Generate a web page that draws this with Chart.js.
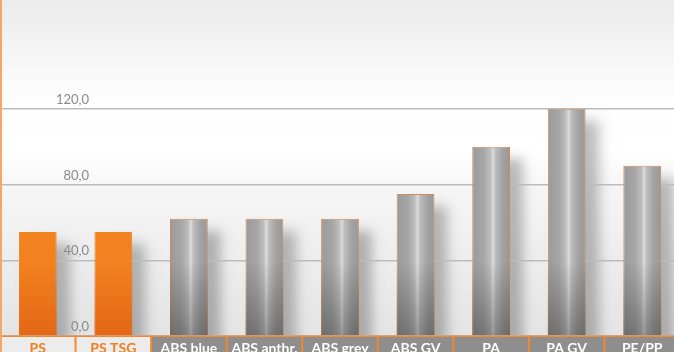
<!DOCTYPE html>
<html lang="de">
<head>
    <meta charset="UTF-8">
    <title>Materialvergleich</title>
    <script src="https://cdn.jsdelivr.net/npm/chart.js"></script>
    <style>
        html, body {
            margin: 0;
            padding: 0;
            overflow: hidden;
            background: #fff;
        }

        /* etwas breiter als das Fenster, die letzte Spalte ist angeschnitten */
        .chart-box {
            position: relative;
            width: 680px;
            height: 352px;
        }
    </style>
</head>
<body>
    <div class="chart-box">
        <canvas id="chart"></canvas>
    </div>

    <script>
        // Werte
        var categories = ['PS', 'PS TSG', 'ABS blue', 'ABS anthr.', 'ABS grey', 'ABS GV', 'PA', 'PA GV', 'PE/PP'];
        var values = [55, 55, 62, 62, 62, 75, 100, 120, 90];
        var highlighted = [true, true, false, false, false, false, false, false, false];
        var yTicks = [0, 40, 80, 120];
        var yMax = 177.5;

        var barPct = 0.5;

        // Zylinder-Verlauf für die Säulen
        function barColumn(ctx) {
            var chart = ctx.chart;
            var i = ctx.dataIndex;
            if (highlighted[i]) return '#f28220';
            if (!chart.chartArea) return '#a2a2a2';
            var xs = chart.scales.x;
            var w = xs.width / categories.length * barPct;
            var cx = xs.getPixelForValue(i);
            var g = chart.ctx.createLinearGradient(cx - w / 2, 0, cx + w / 2, 0);
            g.addColorStop(0, '#9a9a9a');
            g.addColorStop(0.3, '#a6a6a6');
            g.addColorStop(0.48, '#bdbdbd');
            g.addColorStop(0.55, '#dcdcdc');
            g.addColorStop(0.62, '#bdbdbd');
            g.addColorStop(0.8, '#a3a3a3');
            g.addColorStop(1, '#979797');
            return g;
        }

        function barEdge(ctx) {
            return highlighted[ctx.dataIndex] ? '#f28220' : '#d08c58';
        }

        // Abdunkelung am Fuß der Säulen
        function barShade(ctx) {
            var chart = ctx.chart;
            var area = chart.chartArea;
            if (!area) return 'rgba(0,0,0,0)';
            var g = chart.ctx.createLinearGradient(0, area.bottom - 75, 0, area.bottom);
            if (highlighted[ctx.dataIndex]) {
                g.addColorStop(0, 'rgba(200,50,0,0)');
                g.addColorStop(1, 'rgba(200,50,0,0.35)');
            } else {
                g.addColorStop(0, 'rgba(0,0,0,0)');
                g.addColorStop(1, 'rgba(0,0,0,0.3)');
            }
            return g;
        }

        // Hintergrund und weicher Schatten rechts hinter jeder Säule (unter den Gitterlinien)
        var backdrop = {
            id: 'backdrop',
            beforeDraw: function (chart) {
                var c = chart.ctx, area = chart.chartArea;
                var g = c.createLinearGradient(0, 0, 0, area.bottom);
                g.addColorStop(0, '#ebebeb');
                g.addColorStop(0.28, '#fdfdfd');
                g.addColorStop(0.45, '#ffffff');
                g.addColorStop(0.56, '#f6f6f6');
                g.addColorStop(1, '#e4e4e4');
                c.save();
                c.fillStyle = g;
                c.fillRect(0, 0, chart.width, area.bottom);

                c.beginPath();
                c.rect(area.left, area.top, area.right - area.left, area.bottom - area.top);
                c.clip();
                c.shadowColor = 'rgba(0,0,0,0.26)';
                c.shadowBlur = 12;
                c.shadowOffsetX = 10000 + 13;
                c.shadowOffsetY = 12;
                c.fillStyle = '#000';
                chart.getDatasetMeta(0).data.forEach(function (bar) {
                    var p = bar.getProps(['x', 'y', 'base', 'width'], true);
                    c.fillRect(p.x - p.width / 2 - 10000, p.y, p.width, p.base - p.y);
                });
                c.restore();
            }
        };

        // Kategorie-Kästen unter der Achse und Achsenbeschriftung
        var labelBoxes = {
            id: 'labelBoxes',
            afterDatasetsDraw: function (chart) {
                var c = chart.ctx, area = chart.chartArea, xs = chart.scales.x, ys = chart.scales.y;
                var step = xs.width / categories.length;
                c.save();

                c.fillStyle = '#8a8a8a';
                c.font = '13px Lato';
                c.textAlign = 'right';
                c.textBaseline = 'alphabetic';
                ys.ticks.forEach(function (t) {
                    c.fillText(t.label, 89, ys.getPixelForValue(t.value) - 5);
                });

                categories.forEach(function (name, i) {
                    var cx = xs.getPixelForValue(i);
                    c.fillStyle = highlighted[i] ? '#ececec' : '#8e8e8e';
                    c.fillRect(cx - step / 2, area.bottom, step, chart.height - area.bottom);
                    c.fillStyle = highlighted[i] ? '#f07d1e' : '#ffffff';
                    c.font = 'bold 14px Lato';
                    c.textAlign = 'center';
                    c.fillText(name, cx, chart.height + 0.5);
                });
                c.strokeStyle = '#f08a30';
                c.lineWidth = 2;
                for (var i = 1; i < categories.length; i++) {
                    var bx = xs.left + step * i;
                    c.beginPath();
                    c.moveTo(bx, area.bottom);
                    c.lineTo(bx, chart.height);
                    c.stroke();
                }
                c.fillStyle = '#f08a30';
                c.fillRect(0, area.bottom - 0.5, chart.width, 1.5);
                c.fillStyle = '#f6a767';
                c.fillRect(0, 0, 2, chart.height);
                c.restore();
            }
        };

        var ctx = document.getElementById('chart').getContext('2d');
        var chart = new Chart(ctx, {
            type: 'bar',
            data: {
                labels: categories,
                datasets: [{
                    data: values,
                    backgroundColor: barColumn,
                    borderColor: barEdge,
                    borderWidth: 1,
                    barPercentage: barPct,
                    categoryPercentage: 1,
                    grouped: false,
                    order: 1
                }, {
                    data: values,
                    backgroundColor: barShade,
                    borderWidth: 0,
                    barPercentage: barPct,
                    categoryPercentage: 1,
                    grouped: false,
                    order: 0
                }]
            },
            options: {
                responsive: true,
                maintainAspectRatio: false,
                animation: false,
                layout: { padding: 0 },
                plugins: {
                    legend: { display: false },
                    tooltip: { enabled: false }
                },
                scales: {
                    x: {
                        grid: { display: false },
                        border: { display: false },
                        ticks: { display: false },
                        afterFit: function (s) { s.height = 16; }
                    },
                    y: {
                        min: 0,
                        max: yMax,
                        afterFit: function (s) { s.width = 0; },
                        afterBuildTicks: function (s) {
                            s.ticks = yTicks.map(function (v) { return { value: v }; });
                        },
                        grid: { color: '#bcbcbc', lineWidth: 1.5, drawTicks: false },
                        border: { display: false },
                        ticks: {
                            display: false,
                            callback: function (v) { return v.toFixed(1).replace('.', ','); }
                        }
                    }
                }
            },
            plugins: [backdrop, labelBoxes]
        });
    </script>
</body>
</html>
